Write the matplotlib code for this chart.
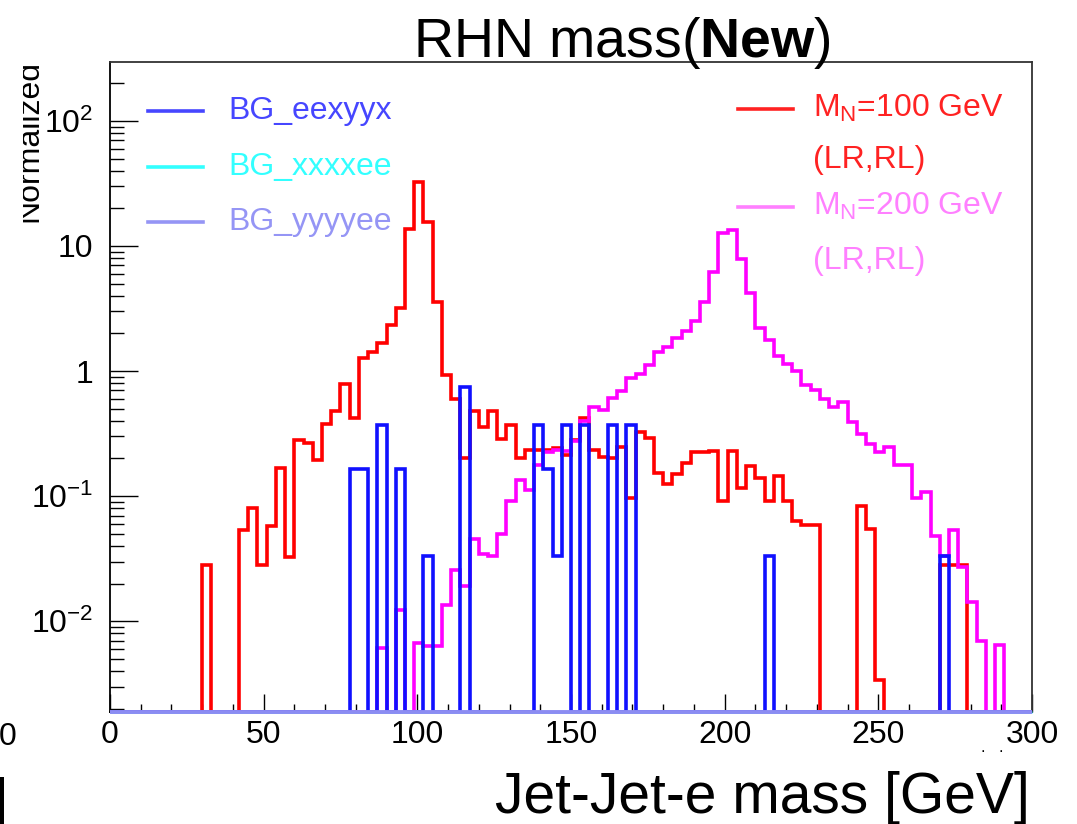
import matplotlib
matplotlib.use("Agg")
import matplotlib.pyplot as plt
import numpy as np
from matplotlib.patches import Rectangle
from matplotlib.ticker import FixedLocator, LogLocator, NullFormatter, FixedFormatter
from matplotlib.transforms import Bbox, TransformedBbox

plt.rcParams.update({
    "font.family": "Liberation Sans",
    "mathtext.fontset": "custom",
    "mathtext.rm": "Liberation Sans",
    "mathtext.it": "Liberation Sans:italic",
    "mathtext.bf": "Liberation Sans:bold",
})

# 100 bins of 3 GeV between 0 and 300 GeV
BIN_EDGES = np.arange(0, 301, 3)

# M_N = 100 GeV (LR,RL), one value per bin
SIG100 = [
    0, 0, 0, 0, 0, 0, 0, 0, 0, 0,
    0.028, 0, 0, 0, 0.054, 0.081, 0.0284, 0.0575, 0.168, 0.0328,
    0.281, 0.267, 0.195, 0.378, 0.476, 0.782, 0.418, 1.28, 1.42, 1.67,
    2.33, 3.17, 13.7, 32.6, 15.5, 3.57, 0.93, 0.60, 0.20, 0.48,
    0.357, 0.483, 0.287, 0.371, 0.203, 0.236, 0.236, 0.236, 0.243, 0.212,
    0.282, 0.42, 0.236, 0.205, 0.203, 0.245, 0.097, 0.323, 0.293, 0.154,
    0.124, 0.149, 0.185, 0.225, 0.225, 0.228, 0.092, 0.23, 0.117, 0.174,
    0.14, 0.092, 0.145, 0.092, 0.0634, 0.0586, 0.0586, 0, 0, 0,
    0, 0.0835, 0.055, 0.0034, 0, 0, 0, 0, 0, 0,
    0.028, 0.028, 0.028, 0, 0, 0, 0, 0, 0, 0,
]

# M_N = 200 GeV (LR,RL), one value per bin
SIG200 = [
    0, 0, 0, 0, 0, 0, 0, 0, 0, 0,
    0, 0, 0, 0, 0, 0, 0, 0, 0, 0,
    0, 0, 0, 0, 0, 0, 0, 0, 0, 0.0061,
    0, 0.0122, 0, 0.0067, 0.0063, 0.0063, 0.0136, 0.0256, 0.019, 0.0455,
    0.0344, 0.0333, 0.0497, 0.0917, 0.134, 0.113, 0.177, 0.226, 0.236, 0.23,
    0.275, 0.397, 0.515, 0.49, 0.61, 0.69, 0.885, 0.945, 1.12, 1.42,
    1.57, 1.83, 2.11, 2.52, 3.59, 6.15, 12.6, 13.5, 7.8, 4.24,
    2.23, 1.78, 1.31, 1.14, 1.0, 0.77, 0.71, 0.60, 0.52, 0.57,
    0.39, 0.315, 0.262, 0.227, 0.247, 0.179, 0.179, 0.097, 0.108, 0.048,
    0.033, 0.0534, 0.0269, 0.0142, 0.007, 0, 0.0064, 0, 0, 0,
]

# BG_eexyyx: only a few filled bins (lower bin edge in GeV -> value)
BG_EEXYYX_LOW = [78, 81, 87, 93, 102, 114, 138, 141, 144, 147, 153, 162, 168, 213, 270]
BG_EEXYYX_VAL = [0.165, 0.165, 0.37, 0.165, 0.0335, 0.75, 0.37, 0.165, 0.0335,
                 0.37, 0.37, 0.37, 0.37, 0.0335, 0.0335]

# BG_xxxxee and BG_yyyyee are empty
YMIN, YMAX = 0.00188, 296.0

X_TICKS = [0, 50, 100, 150, 200, 250, 300]
Y_TICKS = [0.01, 0.1, 1, 10, 100]
Y_TICKLABELS = [r"$10^{-2}$", r"$10^{-1}$", "1", "10", r"$10^{2}$"]


def bg_hist(lows, vals):
    h = np.zeros(len(BIN_EDGES) - 1)
    for lo, v in zip(lows, vals):
        h[int(lo // 3)] = v
    return h


def floor_zero(h):
    # ROOT draws empty bins on the lower frame edge of a log axis
    h = np.asarray(h, dtype=float)
    return np.where(h > 0, h, YMIN)


fig = plt.figure(figsize=(10.77, 8.24), dpi=100)
ax = fig.add_axes([0.1021, 0.1359, 0.8561, 0.7889])
ax.set_yscale("log")

lw = 2.6
ax.stairs(floor_zero(SIG100), BIN_EDGES, baseline=None, color="#ff0000", lw=lw, zorder=2)
ax.stairs(floor_zero(SIG200), BIN_EDGES, baseline=None, color="#ff00ff", lw=lw, zorder=2)
ax.stairs(floor_zero(bg_hist(BG_EEXYYX_LOW, BG_EEXYYX_VAL)), BIN_EDGES, baseline=None,
          color="#1010ff", lw=lw, zorder=3)
empty = np.zeros(len(BIN_EDGES) - 1)
ax.stairs(floor_zero(empty), BIN_EDGES, baseline=None, color="#40f0ff", lw=1.8,
          zorder=5, clip_on=False)
ax.stairs(floor_zero(empty), BIN_EDGES, baseline=None, color="#8c8cf2", lw=2.8,
          zorder=6, clip_on=False)

ax.set_xlim(0, 300)
ax.set_ylim(YMIN, YMAX)

ax.xaxis.set_major_locator(FixedLocator(X_TICKS))
ax.xaxis.set_minor_locator(FixedLocator(np.arange(0, 301, 10)))
ax.set_xticklabels([str(t) for t in X_TICKS])
ax.yaxis.set_major_locator(FixedLocator(Y_TICKS))
ax.yaxis.set_major_formatter(FixedFormatter(Y_TICKLABELS))
ax.yaxis.set_minor_locator(LogLocator(base=10, subs=np.arange(2, 10), numticks=20))
ax.yaxis.set_minor_formatter(NullFormatter())

ax.tick_params(axis="x", which="major", direction="in", length=13, width=1.0,
               labelsize=23, pad=6, top=False)
ax.tick_params(axis="x", which="minor", direction="in", length=6, width=1.0, top=False)
ax.tick_params(axis="y", which="major", direction="in", length=20, width=1.0,
               labelsize=23, pad=12, right=False)
ax.tick_params(axis="y", which="minor", direction="in", length=10, width=1.0, right=False)
for side in ("left", "right", "top", "bottom"):
    ax.spines[side].set_linewidth(1.3)
    ax.spines[side].set_color("black")
ax.spines["top"].set_color("#333333")
ax.spines["right"].set_color("#333333")

# legends, drawn by hand in axes fractions like the ROOT TLegend boxes
tr = ax.transAxes
left_entries = [("BG_eexyyx", "#4646ff", 0.925), ("BG_xxxxee", "#33ffff", 0.838),
                ("BG_yyyyee", "#9595f5", 0.754)]
for label, col, yy in left_entries:
    ax.plot([0.041, 0.101], [yy, yy], color=col, lw=2.6, transform=tr, clip_on=False)
    ax.text(0.128, yy, label, color=col, fontsize=23, va="center", ha="left", transform=tr)

right_entries = [(r"M$_{\rm N}$=100 GeV", "#ff2222", 0.928, 0.849),
                 (r"M$_{\rm N}$=200 GeV", "#ff80ff", 0.777, 0.694)]
for label, col, yy, yy2 in right_entries:
    ax.plot([0.681, 0.741], [yy, yy], color=col, lw=2.6, transform=tr, clip_on=False)
    ax.text(0.763, yy, label, color=col, fontsize=23, va="center", ha="left", transform=tr)
    ax.text(0.763, yy2, "(LR,RL)", color=col, fontsize=23, va="center", ha="left", transform=tr)

fig.text(0.577, 0.931, r"RHN mass($\mathbf{New}$)", ha="center", va="baseline", fontsize=40)
fig.text(0.9564, 0.0133, "Jet-Jet-e mass [GeV]", ha="right", va="baseline", fontsize=41)

# y title, cut by the left pad edge as in the original canvas
ylab = fig.text(37 / 1077, (824 - 60) / 824, "Normalized", rotation=90,
                rotation_mode="anchor", ha="right", va="baseline", fontsize=23)
ylab.set_clip_box(TransformedBbox(Bbox([[23 / 1077, 0], [1, 1]]), fig.transFigure))
ylab.set_clip_on(True)

# leftovers of the neighbouring pad
fig.text(-0.001, (824 - 737) / 824, "0", ha="left", va="center", fontsize=23)
fig.patches.append(Rectangle((0, 0), 4 / 1077, 47 / 824, transform=fig.transFigure,
                             facecolor="black", edgecolor="none"))
fig.text(983 / 1077, (824 - 752) / 824, ".", ha="center", fontsize=12)
fig.text(1001 / 1077, (824 - 752) / 824, ".", ha="center", fontsize=12)

fig.savefig("out.png", dpi=100, facecolor="white")
